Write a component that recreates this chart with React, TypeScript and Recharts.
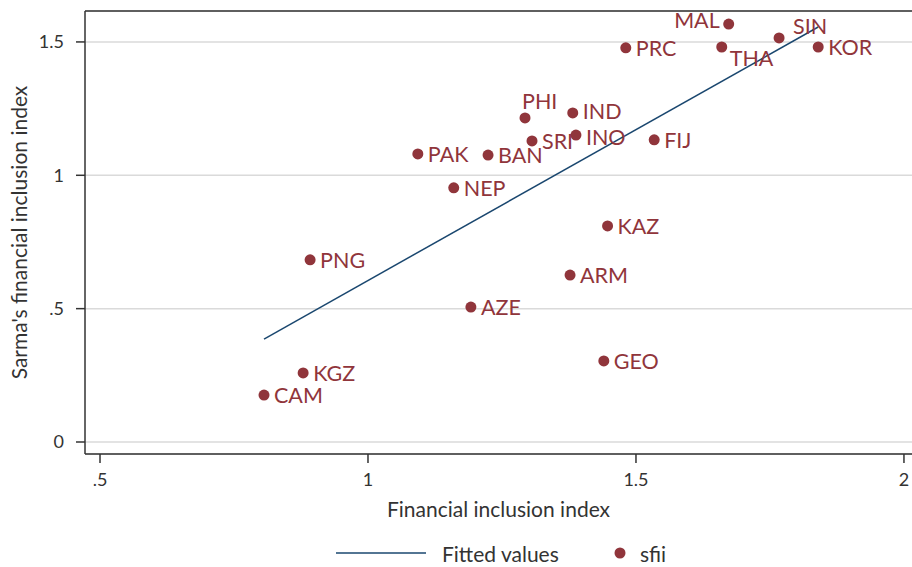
import { ComposedChart, Scatter, Line, XAxis, YAxis, CartesianGrid, ReferenceLine, Label } from 'recharts';

const countries = ['MAL', 'SIN', 'KOR', 'THA', 'PRC', 'PHI', 'IND', 'INO', 'SRI', 'FIJ', 'PAK', 'BAN', 'NEP', 'KAZ', 'PNG', 'ARM', 'AZE', 'GEO', 'KGZ', 'CAM'];
const fii = [1.673, 1.767, 1.840, 1.660, 1.481, 1.293, 1.382, 1.388, 1.306, 1.534, 1.093, 1.224, 1.160, 1.447, 0.892, 1.377, 1.192, 1.440, 0.879, 0.806];
const sfii = [1.567, 1.515, 1.481, 1.481, 1.478, 1.215, 1.234, 1.151, 1.129, 1.133, 1.080, 1.076, 0.953, 0.810, 0.683, 0.626, 0.506, 0.304, 0.259, 0.176];

const fittedX = [0.806, 1.840];
const fittedY = [0.386, 1.556];

const xTicks = [0.5, 1, 1.5, 2];
const yTicks = [0, 0.5, 1, 1.5];

const RED = '#90353b';
const NAVY = '#1a476f';
const FONT = 'Lato, "Open Sans", sans-serif';

// label placement around the marker (dx, dy from dot centre, anchor)
const labelPos: Record<string, [number, number, 'start' | 'end']> = {
  MAL: [-9, -4, 'end'],
  SIN: [14, -12, 'start'],
  THA: [8, 11, 'start'],
  PHI: [-3, -17, 'start'],
  IND: [10, -2, 'start'],
  INO: [10, 2, 'start'],
};

const points = countries.map((name, i) => ({ name, x: fii[i], y: sfii[i] }));
const fitted = fittedX.map((x, i) => ({ x, fit: fittedY[i] }));

const fmt = (v: number) => (v === 0.5 ? '.5' : String(v));

function Dot(props: any) {
  const { cx, cy, payload } = props;
  const [dx, dy, anchor] = labelPos[payload.name] || [10, 0, 'start'];
  return (
    <g>
      <circle cx={cx} cy={cy} r={5.5} fill={RED} />
      <text
        x={cx + dx}
        y={cy + dy}
        textAnchor={anchor}
        dominantBaseline="central"
        fill={RED}
        fontSize={21.5}
        fontFamily={FONT}
      >
        {payload.name}
      </text>
    </g>
  );
}

export default function App() {
  return (
    <div style={{ position: 'absolute', left: 0, top: 0, width: 912, height: 567, background: '#fff', fontFamily: FONT }}>
      <ComposedChart width={912} height={567} margin={{ top: 11, right: 0, bottom: 43, left: 0 }}>
        <CartesianGrid vertical={false} stroke="#dadada" strokeWidth={1.5} />
        <XAxis
          type="number"
          dataKey="x"
          domain={[0.472, 2.015]}
          ticks={xTicks}
          tickFormatter={fmt}
          height={70}
          tickSize={9}
          tickMargin={10}
          stroke="#333"
          strokeWidth={1.5}
          tick={{ fill: '#333', fontSize: 18, fontFamily: FONT }}
          allowDataOverflow
        >
          <Label value="Financial inclusion index" position="insideBottom" offset={7} fill="#333" fontSize={21} fontFamily={FONT} />
        </XAxis>
        <YAxis
          type="number"
          dataKey="y"
          domain={[-0.045, 1.616]}
          ticks={yTicks}
          tickFormatter={fmt}
          width={85}
          tickSize={9}
          tickMargin={12}
          stroke="#333"
          strokeWidth={1.5}
          tick={{ fill: '#333', fontSize: 18, fontFamily: FONT }}
          allowDataOverflow
        >
          <Label value="Sarma's financial inclusion index" angle={-90} position="insideLeft" offset={20} style={{ textAnchor: 'middle' }} fill="#333" fontSize={21} fontFamily={FONT} />
        </YAxis>
        <ReferenceLine y={1.616} stroke="#333" strokeWidth={1.5} />
        <Line data={fitted} dataKey="fit" stroke={NAVY} strokeWidth={1.5} dot={false} isAnimationActive={false} />
        <Scatter data={points} dataKey="y" shape={<Dot />} isAnimationActive={false} />
      </ComposedChart>
      <svg width={912} height={40} style={{ position: 'absolute', left: 0, top: 534 }}>
        <line x1={336} x2={426} y1={19} y2={19} stroke={NAVY} strokeWidth={1.5} />
        <text x={442} y={19} dominantBaseline="central" fill="#333" fontSize={21} fontFamily={FONT}>Fitted values</text>
        <circle cx={620} cy={19} r={5.5} fill={RED} />
        <text x={640} y={19} dominantBaseline="central" fill="#333" fontSize={21} fontFamily={FONT}>sfii</text>
      </svg>
    </div>
  );
}
